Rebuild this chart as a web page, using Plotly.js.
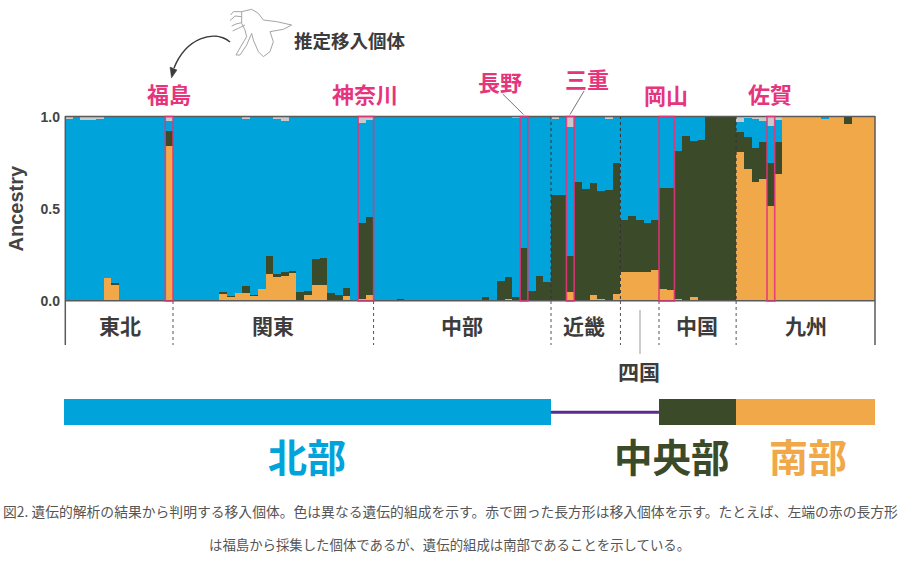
<!DOCTYPE html>
<html lang="ja">
<head>
<meta charset="utf-8">
<script src="https://cdn.plot.ly/plotly-3.0.1.min.js"></script>
<style>html,body{margin:0;padding:0;background:#fff}#chart{width:900px;height:564px}</style>
</head>
<body>
<div id="chart"></div>
<script>
// Ancestry per individual (one entry per bar, 105 bars)
const southern = [
  0,0,0,0,0,.125,.085,0,0,0,0,0,0,.84,
  0,0,0,0,0,0,.036,.022,.044,.044,.027,.062,.145,.127,.134,.152,0,.031,.083,.083,0,0,.024,0,.007,.03,
  0,0,0,0,0,0,0,0,0,0,0,0,0,0,0,0,0,.011,0,.005,0,0,0,
  0,0,.049,0,0,.029,.011,0,.036,
  .158,.158,.158,.158,.169,
  .062,.058,.011,.002,.018,0,0,0,0,0,
  .808,.715,.644,.662,.517,.69,1,1,1,1,1,.985,1,1,.96,1,1,1
];
const central = [
  0,0,0,0,0,0,.013,0,0,0,0,0,0,.085,
  0,0,0,0,0,0,.011,.002,0,.036,.006,0,.098,.02,.022,.009,.049,.023,.142,.149,.042,.031,.043,0,.413,.427,
  0,0,0,.011,0,0,0,0,0,0,0,0,0,.004,.018,.002,.105,.118,.022,.284,.054,.134,.1,
  .572,.572,.194,.646,.608,.61,.584,.603,.712,
  .281,.305,.281,.263,.27,
  .553,.552,.8,.891,.851,.875,1,1,1,1,
  .11,.174,.187,.202,.231,.174,0,0,0,0,0,0,0,0,.04,0,0,0
];
const northern = [
  .99,1,.98,.98,.988,.875,.902,1,1,1,1,1,1,.05,
  1,1,1,1,1,1,.953,.976,.956,.908,.967,.938,.757,.841,.822,.839,.951,.946,.775,.768,.958,.969,.933,1,.544,.525,
  1,1,1,.989,1,1,1,1,1,1,1,1,1,.996,.982,.998,.895,.871,.97,.711,.946,.866,.9,
  .416,.428,.701,.354,.392,.361,.405,.387,.252,
  .561,.537,.561,.579,.561,
  .385,.39,.189,.107,.131,.125,0,0,0,0,
  .053,.106,.159,.114,.203,.12,0,0,0,0,0,.015,0,0,0,0,0,0
];
const unassigned = [
  .01,0,.02,.02,.012,0,0,0,0,0,0,0,0,.025,
  0,0,0,0,0,0,0,0,0,.012,0,0,0,.012,.022,0,0,0,0,0,0,0,0,0,.036,.018,
  0,0,0,0,0,0,0,0,0,0,0,0,0,0,0,0,0,0,.008,0,0,0,0,
  .012,0,.056,0,0,0,0,.01,0,
  0,0,0,0,0,
  0,0,0,0,0,0,0,0,0,0,
  .029,.005,.01,.022,.049,.016,0,0,0,0,0,0,0,0,0,0,0,0
];
const yTickVals = [0, 0.5, 1];
const yTickText = ['0.0', '0.5', '1.0'];
const regionEdges = [14, 40, 63, 72, 77, 87];
const edgesInsidePlot = [63, 72, 87];
const migrantStart = [13, 38, 59, 65, 77, 91];
const migrantCount = [1, 2, 1, 1, 2, 1];
const bandStart = [0, 77, 87];
const bandWidth = [63, 10, 18];
const bandLink = [63, 77];

const BLUE = '#00a3da', DARK = '#3b4a28', ORANGE = '#f0a848', GRAY = '#c9c9c9';
const PINK = '#e5357c', TEXT = '#3c3c3c';
const W = 900, H = 564;
const px = x => x / W, py = y => 1 - y / H;
const CJK = '"Noto Sans CJK JP", "Noto Sans", sans-serif';
const LATIN = '"Liberation Sans", Arial, sans-serif';

const idx = southern.map((_, i) => i + 0.5);
const stack = (y, color, name) => ({type:'bar', x:idx, y:y, name:name, marker:{color:color, line:{width:0}}, xaxis:'x', yaxis:'y', hoverinfo:'skip'});
const data = [
  stack(southern, ORANGE, '南部'),
  stack(central, DARK, '中央部'),
  stack(northern, BLUE, '北部'),
  stack(unassigned, GRAY, 'その他'),
  {type:'bar', orientation:'h', x:bandWidth, base:bandStart, y:[0,0,0], width:[1,1,1],
   marker:{color:[BLUE, DARK, ORANGE], line:{width:0}}, xaxis:'x2', yaxis:'y2', hoverinfo:'skip'},
  {type:'scatter', mode:'lines', x:bandLink, y:[0,0], line:{color:'#5a2d8c', width:3}, xaxis:'x2', yaxis:'y2', hoverinfo:'skip'}
];

const label = (text, x, y, size, color, weight=700, font=CJK) => ({
  text, x:px(x), y:py(y), xref:'paper', yref:'paper', xanchor:'center', yanchor:'middle',
  showarrow:false, font:{family:font, size, color, weight}
});
const annotations = [
  label('推定移入個体', 349.5, 40, 18.5, TEXT),
  label('福島', 168.5, 93, 22, PINK),
  label('神奈川', 365, 93, 22, PINK),
  label('長野', 499.5, 81, 22, PINK),
  label('三重', 587, 78, 22, PINK),
  label('岡山', 666, 94, 22, PINK),
  label('佐賀', 770, 93, 22, PINK),
  label('東北', 119.5, 325, 21, TEXT),
  label('関東', 272.5, 325, 21, TEXT),
  label('中部', 461.5, 325, 21, TEXT),
  label('近畿', 584, 325, 21, TEXT),
  label('中国', 696.5, 325, 21, TEXT),
  label('九州', 805.5, 325, 21, TEXT),
  label('四国', 639, 371, 21, TEXT),
  label('北部', 307, 455, 39, BLUE),
  label('中央部', 672, 455, 38.5, DARK),
  label('南部', 808, 455, 39, ORANGE),
  label('図2. 遺伝的解析の結果から判明する移入個体。色は異なる遺伝的組成を示す。赤で囲った長方形は移入個体を示す。たとえば、左端の赤の長方形', 450, 511, 13.8, '#555555', 400),
  label('は福島から採集した個体であるが、遺伝的組成は南部であることを示している。', 449.5, 544, 13.4, '#555555', 400)
];

const seg = (x0, y0, x1, y1, color, width, dash='solid') => ({
  type:'line', xref:'paper', yref:'paper', x0:px(x0), y0:py(y0), x1:px(x1), y1:py(y1),
  line:{color, width, dash}, layer:'above'
});
const poly = pts => pts.map((p, i) => (i ? 'L' : 'M') + px(p[0]).toFixed(5) + ' ' + py(p[1]).toFixed(5)).join(' ');
const beetleZoom = [
  [[335,35],[365,28],[385,40],[400,60],[440,65],[485,75],[460,88],[420,95],[430,125],[420,155],[400,170],[385,155],[370,120],[365,100],[350,135],[330,165],[318,165],[335,135],[350,110],[345,90],[335,70],[335,35]],
  [[335,35],[310,35],[302,45]],
  [[335,50],[315,48],[300,62]],
  [[335,68],[318,72],[305,78]],
  [[345,75],[325,85],[308,93]]
];
const beetleOut = beetleZoom.map(l => ({
  type:'path', xref:'paper', yref:'paper', layer:'above',
  path: poly(l.map(p => [130 + p[0]/3, p[1]/3])),
  line:{color:'#a5a5a5', width:1}, fillcolor:'rgba(0,0,0,0)'
}));
const curve = 'M' + px(230) + ' ' + py(42) + ' C' + px(214) + ' ' + py(29) + ' ' + px(186) + ' ' + py(38) + ' ' + px(174) + ' ' + py(68);
const arrowHead = poly([[171.5,78],[170,67],[177,70]]) + ' Z';

const shapes = [
  // region separators below the plot
  ...regionEdges.map(e => ({type:'line', xref:'x', yref:'paper', x0:e, x1:e, y0:py(301), y1:py(345), line:{color:'#555', width:1, dash:'dot'}})),
  // separators visible over the bars
  ...edgesInsidePlot.map(e => ({type:'line', xref:'x', yref:'paper', x0:e, x1:e, y0:py(116), y1:py(301), line:{color:'#333', width:1, dash:'dot'}})),
  // frame
  seg(65, 116.5, 875, 116.5, '#5a5a5a', 1.5),
  seg(65, 300.7, 875, 300.7, '#5a5a5a', 1.5),
  seg(65.3, 116, 65.3, 345, '#5a5a5a', 1.5),
  seg(875, 116, 875, 345, '#5a5a5a', 1.5),
  // migrant individuals
  ...migrantStart.map((s, k) => ({type:'rect', xref:'x', yref:'paper', x0:s, x1:s + migrantCount[k], y0:py(301), y1:py(116.5),
    line:{color:PINK, width:1.6}, fillcolor:'rgba(0,0,0,0)', opacity:0.9})),
  // leader lines
  seg(502.7, 94, 523.5, 114.5, '#777', 1),
  seg(584, 91, 570, 114.5, '#777', 1),
  seg(640, 310, 640, 354, '#999', 1),
  // flying beetle and arrow
  ...beetleOut,
  {type:'path', xref:'paper', yref:'paper', path:curve, line:{color:'#3c3c3c', width:1.5}, fillcolor:'rgba(0,0,0,0)'},
  {type:'path', xref:'paper', yref:'paper', path:arrowHead, line:{color:'#3c3c3c', width:0.5}, fillcolor:'#3c3c3c'}
];

const layout = {
  width:W, height:H, margin:{l:0, r:0, t:0, b:0}, paper_bgcolor:'#fff', plot_bgcolor:'#fff',
  showlegend:false, barmode:'stack', bargap:0,
  xaxis:{domain:[px(65), px(875)], range:[0,105], anchor:'y', showgrid:false, zeroline:false, showline:false, showticklabels:false, ticks:''},
  yaxis:{domain:[py(300.7), py(116.7)], range:[0,1], anchor:'x', showgrid:false, zeroline:false, showline:false, ticks:'',
    tickmode:'array', tickvals:yTickVals, ticktext:yTickText, ticklabelstandoff:4,
    tickfont:{family:LATIN, size:14, color:'#444', weight:700},
    title:{text:'Ancestry', standoff:11, font:{family:LATIN, size:20, color:'#444', weight:700}}},
  xaxis2:{domain:[px(64), px(875.3)], range:[0,105], anchor:'y2', showgrid:false, zeroline:false, showline:false, showticklabels:false, ticks:''},
  yaxis2:{domain:[py(425.3), py(399)], range:[-0.5,0.5], anchor:'x2', showgrid:false, zeroline:false, showline:false, showticklabels:false, ticks:''},
  annotations, shapes
};
Plotly.newPlot('chart', data, layout, {staticPlot:true, displayModeBar:false});
</script>
</body>
</html>
